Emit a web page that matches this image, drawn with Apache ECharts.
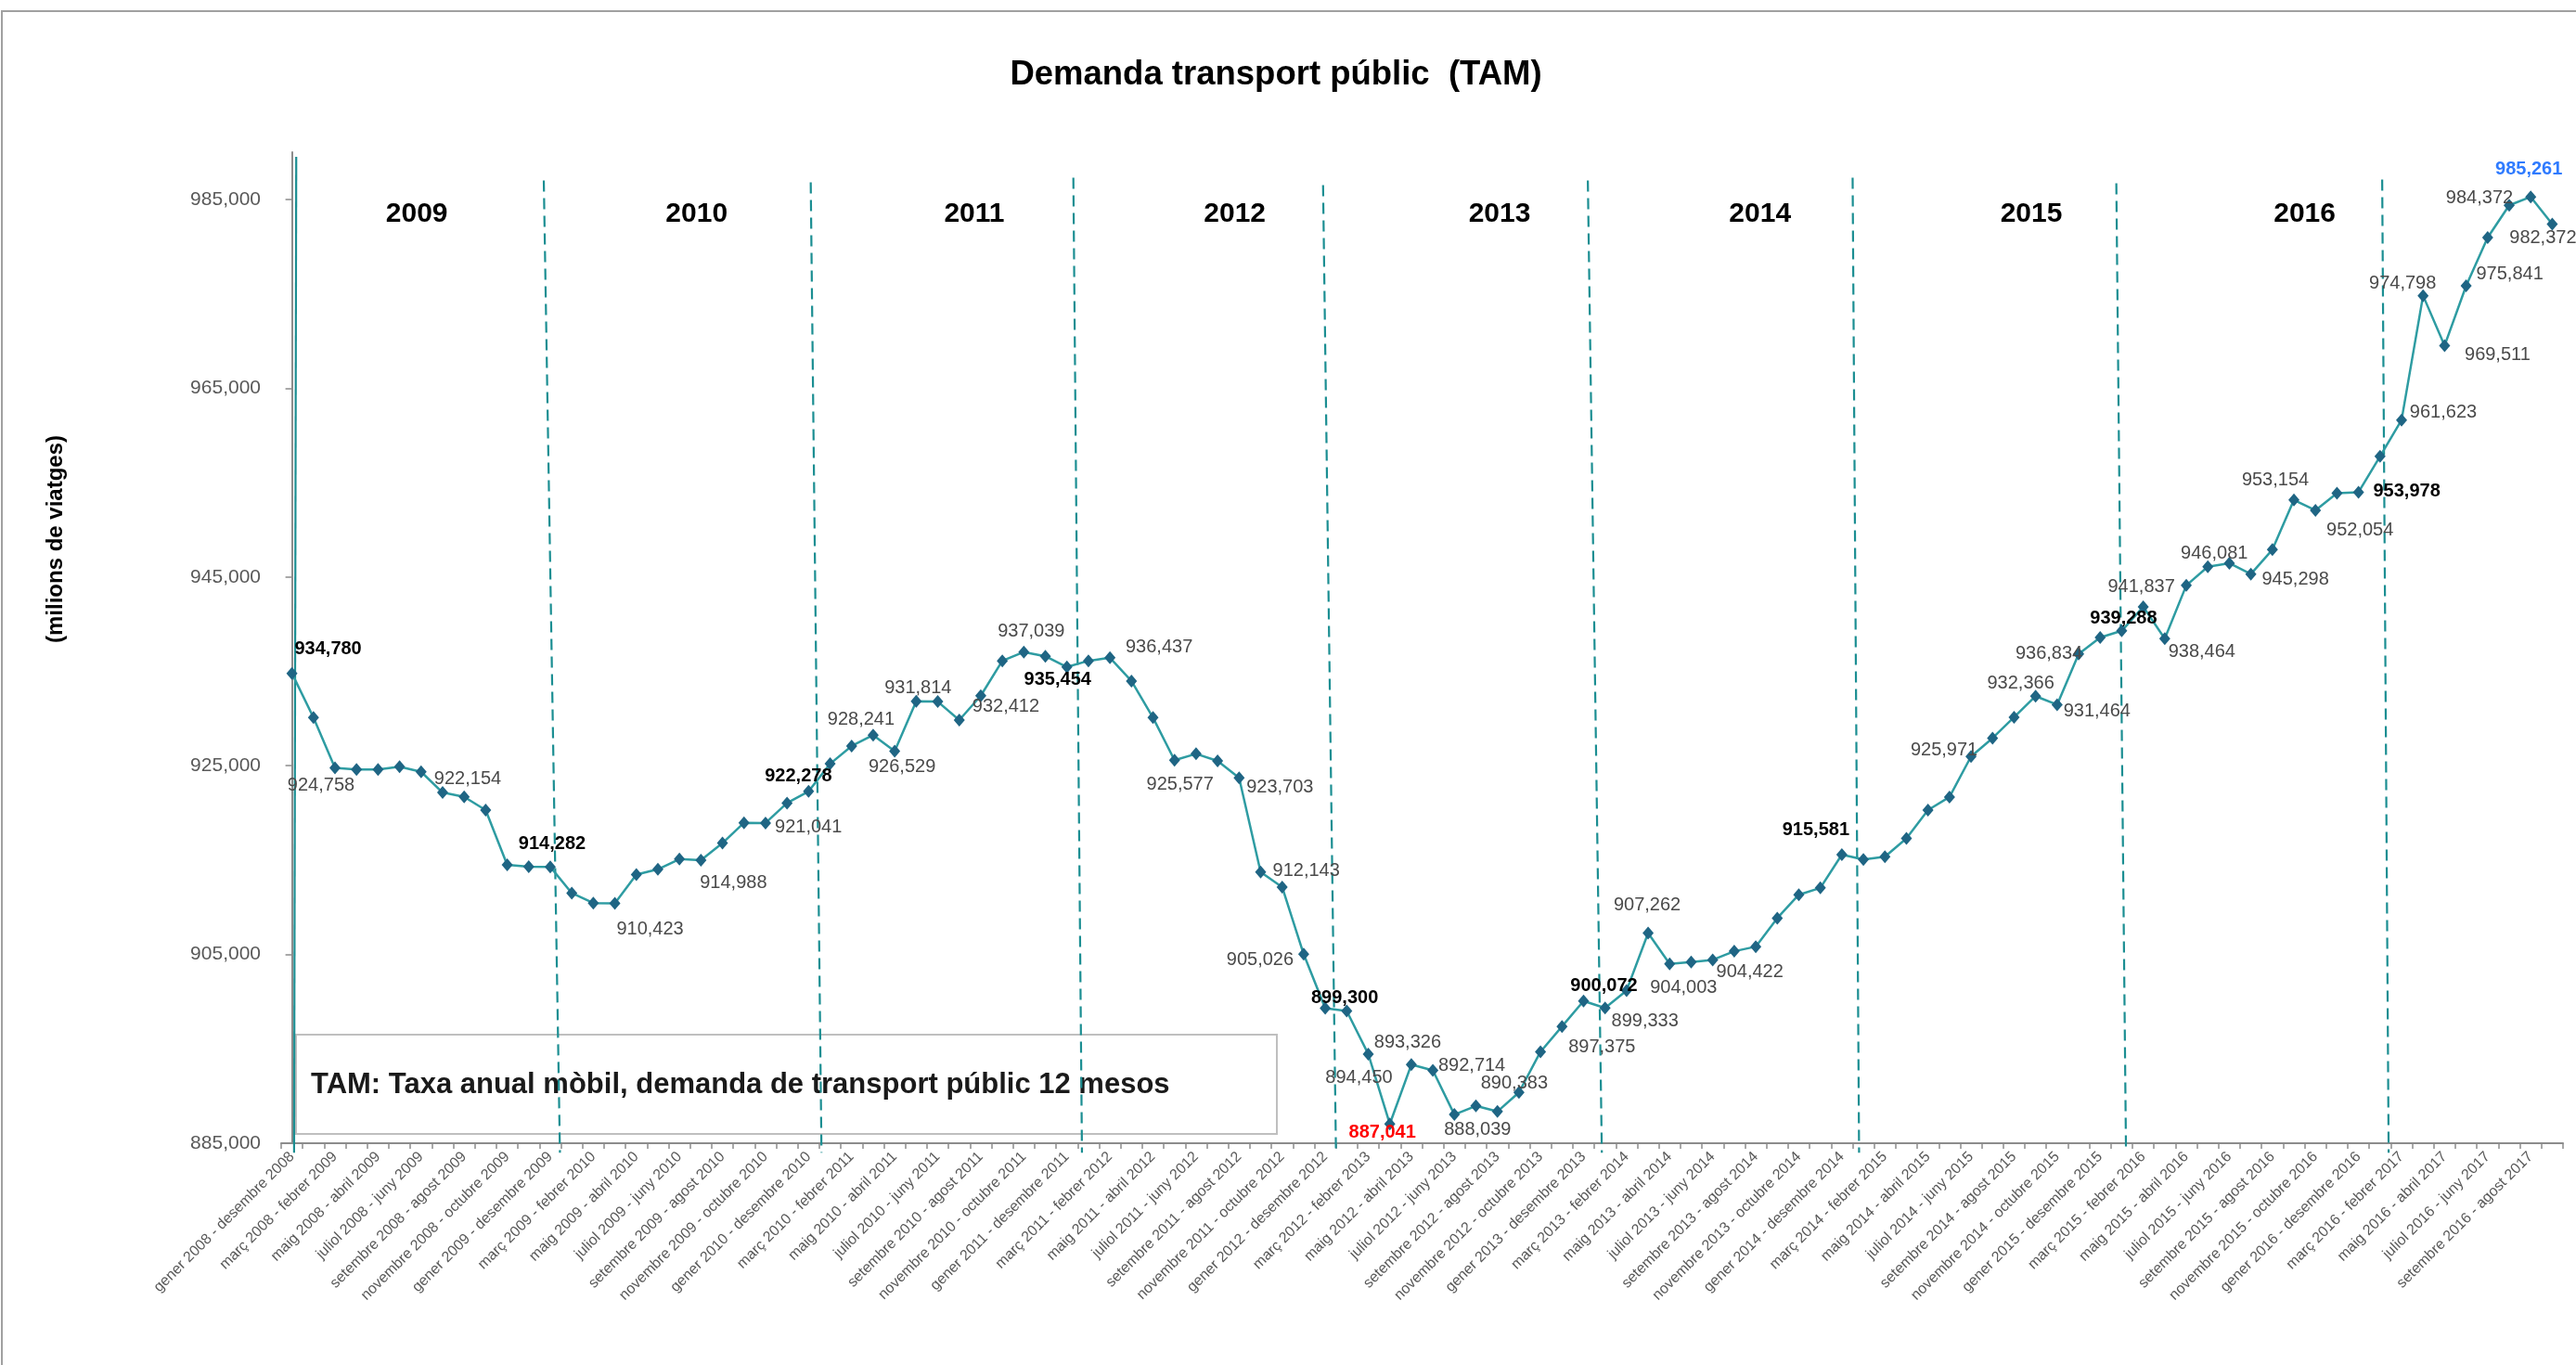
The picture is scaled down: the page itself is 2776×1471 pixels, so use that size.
<!DOCTYPE html>
<html><head><meta charset="utf-8">
<script src="https://cdn.jsdelivr.net/npm/echarts@6/dist/echarts.min.js"></script>
<style>html,body{margin:0;padding:0;background:#fff}#c{width:2776px;height:1471px}</style>
</head><body><div id="c"></div>
<script>
// ---------- DATA ----------
const categories = [
'gener 2008 - desembre 2008',
'febrer 2008 - gener 2009','març 2008 - febrer 2009','abril 2008 - març 2009','maig 2008 - abril 2009','juny 2008 - maig 2009','juliol 2008 - juny 2009','agost 2008 - juliol 2009','setembre 2008 - agost 2009','octubre 2008 - setembre 2009','novembre 2008 - octubre 2009','desembre 2008 - novembre 2009','gener 2009 - desembre 2009',
'febrer 2009 - gener 2010','març 2009 - febrer 2010','abril 2009 - març 2010','maig 2009 - abril 2010','juny 2009 - maig 2010','juliol 2009 - juny 2010','agost 2009 - juliol 2010','setembre 2009 - agost 2010','octubre 2009 - setembre 2010','novembre 2009 - octubre 2010','desembre 2009 - novembre 2010','gener 2010 - desembre 2010',
'febrer 2010 - gener 2011','març 2010 - febrer 2011','abril 2010 - març 2011','maig 2010 - abril 2011','juny 2010 - maig 2011','juliol 2010 - juny 2011','agost 2010 - juliol 2011','setembre 2010 - agost 2011','octubre 2010 - setembre 2011','novembre 2010 - octubre 2011','desembre 2010 - novembre 2011','gener 2011 - desembre 2011',
'febrer 2011 - gener 2012','març 2011 - febrer 2012','abril 2011 - març 2012','maig 2011 - abril 2012','juny 2011 - maig 2012','juliol 2011 - juny 2012','agost 2011 - juliol 2012','setembre 2011 - agost 2012','octubre 2011 - setembre 2012','novembre 2011 - octubre 2012','desembre 2011 - novembre 2012','gener 2012 - desembre 2012',
'febrer 2012 - gener 2013','març 2012 - febrer 2013','abril 2012 - març 2013','maig 2012 - abril 2013','juny 2012 - maig 2013','juliol 2012 - juny 2013','agost 2012 - juliol 2013','setembre 2012 - agost 2013','octubre 2012 - setembre 2013','novembre 2012 - octubre 2013','desembre 2012 - novembre 2013','gener 2013 - desembre 2013',
'febrer 2013 - gener 2014','març 2013 - febrer 2014','abril 2013 - març 2014','maig 2013 - abril 2014','juny 2013 - maig 2014','juliol 2013 - juny 2014','agost 2013 - juliol 2014','setembre 2013 - agost 2014','octubre 2013 - setembre 2014','novembre 2013 - octubre 2014','desembre 2013 - novembre 2014','gener 2014 - desembre 2014',
'febrer 2014 - gener 2015','març 2014 - febrer 2015','abril 2014 - març 2015','maig 2014 - abril 2015','juny 2014 - maig 2015','juliol 2014 - juny 2015','agost 2014 - juliol 2015','setembre 2014 - agost 2015','octubre 2014 - setembre 2015','novembre 2014 - octubre 2015','desembre 2014 - novembre 2015','gener 2015 - desembre 2015',
'febrer 2015 - gener 2016','març 2015 - febrer 2016','abril 2015 - març 2016','maig 2015 - abril 2016','juny 2015 - maig 2016','juliol 2015 - juny 2016','agost 2015 - juliol 2016','setembre 2015 - agost 2016','octubre 2015 - setembre 2016','novembre 2015 - octubre 2016','desembre 2015 - novembre 2016','gener 2016 - desembre 2016',
'febrer 2016 - gener 2017','març 2016 - febrer 2017','abril 2016 - març 2017','maig 2016 - abril 2017','juny 2016 - maig 2017','juliol 2016 - juny 2017','agost 2016 - juliol 2017','setembre 2016 - agost 2017','octubre 2016 - setembre 2017'
];

const tamValues = [
934780,
930100, 924758, 924600, 924600, 924900, 924350, 922154, 921700, 920300, 914500, 914300, 914282,
911500, 910450, 910423, 913470, 914020, 915100, 914988, 916800, 918950, 918930, 921041, 922278,
925200, 927080, 928241, 926529, 931814, 931790, 929830, 932412, 936110, 937039, 936600, 935454,
936110, 936437, 933970, 930090, 925577, 926260, 925500, 923703, 913730, 912143, 905026, 899300,
899010, 894450, 887041, 893326, 892714, 888039, 888950, 888360, 890383, 894690, 897375, 900072,
899333, 901180, 907262, 904003, 904200, 904422, 905340, 905830, 908850, 911330, 912050, 915581,
915060, 915350, 917300, 920300, 921680, 925971, 927920, 930130, 932366, 931464, 936834, 938580,
939288, 941837, 938464, 944100, 946081, 946450, 945298, 947890, 953154, 952054, 953860, 953978,
957770, 961623, 974798, 969511, 975841, 980950, 984372, 985261, 982372
];

const yMin = 885000, yMax = 990000, yStep = 20000;

const yearNames  = ['2009','2010','2011','2012','2013','2014','2015','2016'];
const yearCenter = [5.8, 18.8, 31.7, 43.8, 56.1, 68.2, 80.8, 93.5];   // category units
const yearLevel  = 983400;

// year dividers, in category units (top end / bottom end)
const dividerTop    = [0.2, 11.7, 24.1, 36.3, 47.9, 60.2, 72.5, 84.75, 97.1];
const dividerBottom = [0.1, 12.45, 24.6, 36.7, 48.5, 60.85, 72.8, 85.2, 97.4];
const dividerTopVal = [989500, 987000, 986800, 987300, 986500, 987000, 987300, 986700, 987100];
const dividerBotVal = 884000;

// ---------- LABEL STYLING (which points are labelled, and how) ----------
const labelCfg = {
  0:[39,-26,'bold'], 2:[-15,19], 7:[27,-15], 12:[2,-25,'bold'], 15:[38,28], 19:[35,25],
  23:[23,26], 24:[-11,-16,'bold'], 27:[-13,-17], 28:[8,17], 29:[2,-14], 32:[27,12],
  34:[8,-22], 36:[-10,14,'bold'], 38:[53,-11], 41:[6,26], 44:[44,10], 46:[26,-17],
  47:[-47,6], 48:[21,-11,'bold'], 50:[-10,26], 51:[-8,9,'min'], 52:[-4,-24], 53:[42,-5],
  54:[25,16], 57:[-5,-10], 59:[43,22], 60:[22,-16,'bold'], 61:[43,14], 63:[-1,-30],
  64:[15,26], 66:[40,13], 72:[-28,-26,'bold'], 78:[-29,-7], 81:[-16,-14], 82:[43,7],
  83:[-32,0], 85:[2,-13,'bold'], 86:[-2,-21], 87:[40,14], 89:[7,-14], 91:[48,6],
  93:[-20,-21], 94:[48,22], 96:[52,-1,'bold'], 98:[45,-8], 99:[-22,-13], 100:[57,10],
  101:[47,-13], 103:[-32,-8], 104:[-2,-30,'max'], 105:[-10,15]
};
const labelKinds = {
  normal:{fontWeight:'normal', color:'#4A4A4A'},
  bold:{fontWeight:'bold', color:'#000000'},
  min:{fontWeight:'bold', color:'#FF0000'},
  max:{fontWeight:'bold', color:'#2F7BFF'}
};

const FONT = '"Liberation Sans", Arial, sans-serif';
const fmt = v => Math.round(v).toLocaleString('en-US');

const lineData = tamValues.map((v, i) => {
  const c = labelCfg[i];
  if (!c) return {value: v};
  const k = labelKinds[c[2] || 'normal'];
  return {value: v, label: {show: true, position: 'inside',
          fontSize: 20, fontFamily: FONT, fontWeight: k.fontWeight, color: k.color,
          textBorderWidth: 0}};
});

const dividerSeries = dividerTop.map((t, k) => ({
  type: 'line', xAxisIndex: 1, yAxisIndex: 0, silent: true, clip: false,
  symbol: 'none', z: 2, animation: false,
  data: [[t, dividerTopVal[k]], [dividerBottom[k], dividerBotVal]],
  lineStyle: {color: '#1B8E92', width: 2.2, type: k === 0 ? 'solid' : [12, 7]}
}));

const chart = echarts.init(document.getElementById('c'), null, {renderer: 'canvas'});
chart.setOption({
  animation: false,
  backgroundColor: '#ffffff',
  textStyle: {fontFamily: FONT},
  grid: {left: 303, right: 14, top: 164, bottom: 239, containLabel: false},
  xAxis: [{
    type: 'category', data: categories, boundaryGap: true,
    axisLine: {lineStyle: {color: '#8C8C8C', width: 2}},
    axisTick: {show: true, interval: 0, length: 6, lineStyle: {color: '#8C8C8C', width: 1.5}},
    axisLabel: {interval: 1, rotate: 45, fontSize: 16, color: '#595959', margin: 12, fontFamily: FONT},
    splitLine: {show: false}
  }, {
    type: 'value', min: -0.5, max: categories.length - 0.5, show: false
  }],
  yAxis: {
    type: 'value', min: yMin, max: yMax, interval: yStep,
    axisLine: {show: true, lineStyle: {color: '#8C8C8C', width: 2}},
    axisTick: {show: true, length: 7, lineStyle: {color: '#8C8C8C', width: 1.5}},
    axisLabel: {formatter: v => fmt(v), fontSize: 21, color: '#595959', margin: 22,
                fontFamily: FONT, showMaxLabel: false},
    splitLine: {show: false}
  },
  series: [
    ...dividerSeries,
    {
      type: 'scatter', xAxisIndex: 1, yAxisIndex: 0, silent: true, z: 3,
      symbolSize: 1, itemStyle: {color: 'rgba(255,255,255,0)', opacity: 1},
      data: yearNames.map((n, k) => ({name: n, value: [yearCenter[k], yearLevel]})),
      label: {show: true, position: 'inside', formatter: '{b}', fontSize: 30, opacity: 1,
              fontWeight: 'bold', color: '#000000', fontFamily: FONT, textBorderWidth: 0}
    },
    {
      type: 'line', name: 'TAM', data: lineData, z: 5,
      symbol: 'diamond', symbolSize: [12, 14], showAllSymbol: true,
      lineStyle: {color: '#2E9CA2', width: 2.5},
      itemStyle: {color: '#1F6584'},
      label: {show: false, formatter: p => fmt(p.value)},
      labelLayout: function (p) {
        const c = labelCfg[p.dataIndex];
        return c ? {dx: c[0], dy: c[1], hideOverlap: false} : {};
      }
    }
  ],
  graphic: [
    {type: 'rect', silent: true, z: -10,
     shape: {x: 2, y: 12, width: 2800, height: 1500},
     style: {fill: 'none', stroke: '#A0A0A0', lineWidth: 2}},
    {type: 'text', x: 1375, y: 81, silent: true,
     style: {text: 'Demanda transport públic  (TAM)', font: 'bold 36.5px ' + FONT, fill: '#000',
             textAlign: 'center', textVerticalAlign: 'middle', align: 'center', verticalAlign: 'middle'}},
    {type: 'text', x: 60, y: 581, rotation: Math.PI / 2, silent: true,
     style: {text: '(milions de viatges)', font: 'bold 24px ' + FONT, fill: '#000',
             textAlign: 'center', textVerticalAlign: 'middle', align: 'center', verticalAlign: 'middle'}},
    {type: 'rect', silent: true, z: 1,
     shape: {x: 319, y: 1115, width: 1057, height: 107},
     style: {fill: 'rgba(0,0,0,0)', stroke: '#BFBFBF', lineWidth: 2}},
    {type: 'text', x: 335, y: 1169, silent: true, z: 1,
     style: {text: 'TAM: Taxa anual mòbil, demanda de transport públic 12 mesos',
             font: 'bold 31px ' + FONT, fill: '#1A1A1A',
             textVerticalAlign: 'middle', verticalAlign: 'middle'}}
  ]
});
</script>
</body></html>
